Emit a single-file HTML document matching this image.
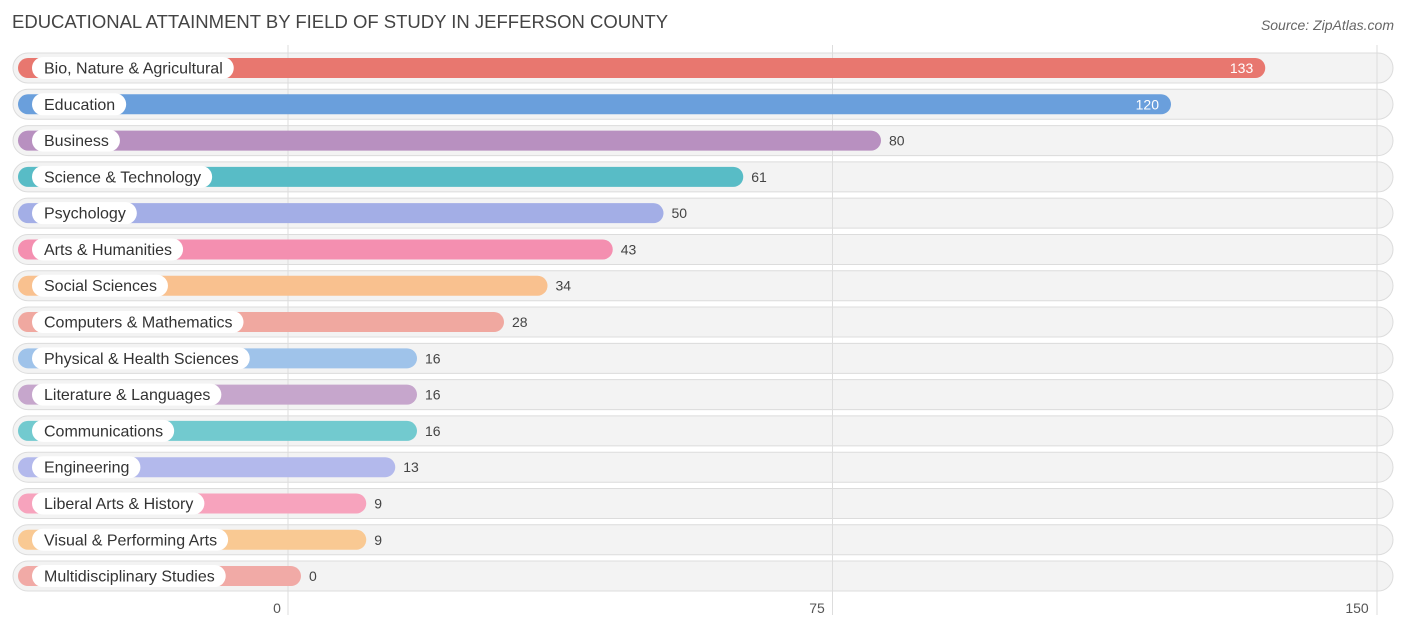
<!DOCTYPE html>
<html><head><meta charset="utf-8"><style>
body{margin:0;background:#fff;width:1406px;height:631px;overflow:hidden;font-family:"Liberation Sans",sans-serif;}
svg text{font-family:"Liberation Sans",sans-serif;}
</style></head><body>
<svg id="c" width="1406" height="631">
<text x="12" y="28" font-size="18.5" fill="#444">EDUCATIONAL ATTAINMENT BY FIELD OF STUDY IN JEFFERSON COUNTY</text>
<text x="1394" y="30" font-size="14" fill="#666" font-style="italic" text-anchor="end">Source: ZipAtlas.com</text>
<g id="grid"></g><g id="rows"></g><g id="ticks"></g>
</svg>
<script>
const categories=["Bio, Nature & Agricultural","Education","Business","Science & Technology","Psychology","Arts & Humanities","Social Sciences","Computers & Mathematics","Physical & Health Sciences","Literature & Languages","Communications","Engineering","Liberal Arts & History","Visual & Performing Arts","Multidisciplinary Studies"];
const values=[133,120,80,61,50,43,34,28,16,16,16,13,9,9,0];
const colors=["#e8776f","#6a9fdc","#b890c0","#58bcc6","#a3aee6","#f48fb0","#f9c18f","#f0a8a0","#9fc3ea","#c6a6cc","#72cacf","#b3b9ec","#f7a3bd","#f9c993","#f1aaa6"];
const ticks=[0,75,150];
const NS="http://www.w3.org/2000/svg";
function gx(v){return 288+v*(1377-288)/150;}
function tlx(v){return 277+v*7.2;}
function bx(v){return 301+v*7.25;}
function ry(i){return 68+i*36.29;}
function mk(t,a,p){const e=document.createElementNS(NS,t);for(const k in a)e.setAttribute(k,a[k]);p.appendChild(e);return e;}
const grid=document.getElementById('grid'),rows=document.getElementById('rows'),tk=document.getElementById('ticks');
categories.forEach((c,i)=>{
 const y=ry(i);
 const bg=mk('rect',{x:13,y:y-15,width:1380,height:30,rx:15,fill:'#f3f3f3',stroke:'#dcdcdc','stroke-width':1},rows);
 
 
});
ticks.forEach(t=>{
 const l=mk('line',{x1:gx(t),x2:gx(t),y1:45,y2:615,stroke:'#ddd','stroke-width':1},rows);
 
 
 const tx=mk('text',{x:tlx(t),y:613,'font-size':14,fill:'#555','text-anchor':'middle'},tk);
 tx.textContent=t;
 
 
});
categories.forEach((c,i)=>{
 const y=ry(i),v=values[i],end=bx(v);
 const b=mk('rect',{x:18,y:y-10,width:end-18,height:20,rx:10,fill:colors[i]},rows);
 
 
 const lt=mk('text',{x:44,y:y+5.5,'font-size':16,fill:'#333'},rows);
 lt.textContent=c;
 
 
 const w=lt.getComputedTextLength();
 const pill=mk('rect',{x:32,y:y-11,width:w+23,height:22,rx:11,fill:'#fff'},rows);
 
 
 rows.insertBefore(pill,lt);
 const inside=v>100;
 const vt=mk('text',{x:inside?end-12:end+8,y:y+5,'font-size':14,fill:inside?'#fff':'#444','text-anchor':inside?'end':'start'},rows);
 vt.textContent=v;
 
 
});
</script>
</body></html>
